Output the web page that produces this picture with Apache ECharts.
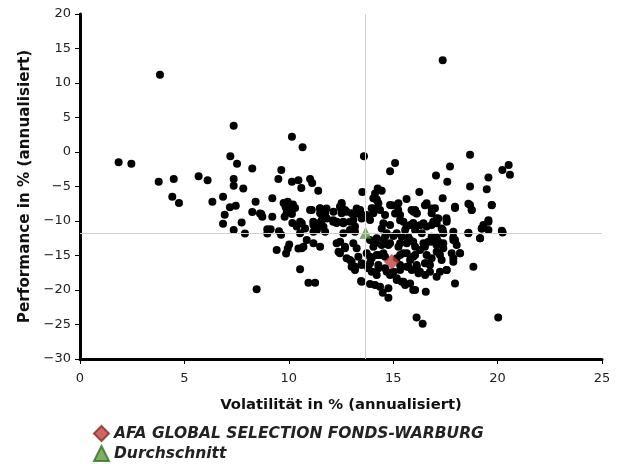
<!DOCTYPE html>
<html><head><meta charset="utf-8">
<script src="https://cdn.jsdelivr.net/npm/echarts@6/dist/echarts.min.js"></script>
<style>html,body{margin:0;padding:0;background:#fff}#c{width:623px;height:464px}</style>
</head><body><div id="c"></div>
<script>
var xTicks = [0, 5, 10, 15, 20, 25];
var yTicks = [-30, -25, -20, -15, -10, -5, 0, 5, 10, 15, 20];
var xAxisName = 'Volatilität in % (annualisiert)';
var yAxisName = 'Performance in % (annualisiert)';
var fundName = 'AFA GLOBAL SELECTION FONDS-WARBURG';
var avgName = 'Durchschnitt';
var fundPoint = [14.93, -15.9];
var avgPoint = [13.68, -11.75];
var peerPoints = [
[1.85,-1.5],[2.46,-1.7],[3.83,11.2],[3.77,-4.3],[4.49,-3.9],[4.42,-6.5],[4.74,-7.4],[5.68,-3.5],[6.11,-4.1],[6.34,-7.2],
[6.85,-6.5],[6.93,-9.1],[6.85,-10.4],[7.36,3.8],[7.2,-0.6],[7.52,-1.7],[7.36,-3.9],[7.36,-4.9],[7.82,-5.3],[7.18,-8.0],
[7.46,-7.8],[7.74,-10.2],[7.36,-11.3],[7.9,-11.8],[8.25,-2.4],[8.41,-7.2],[8.25,-8.7],[8.68,-9.0],[8.73,-9.4],[9.21,-6.7],
[9.21,-9.4],[8.97,-11.2],[9.13,-11.2],[8.97,-11.8],[9.53,-11.5],[9.63,-12.0],[9.42,-14.2],[9.87,-14.7],[9.95,-14.0],[10.02,-13.4],
[9.5,-3.9],[9.64,-2.6],[10.15,2.2],[10.66,0.7],[10.15,-4.3],[10.46,-4.1],[10.6,-5.2],[11.02,-3.9],[11.12,-4.5],[11.41,-5.6],
[8.46,-19.9],[10.54,-17.0],[10.94,-18.94],[11.26,-18.94],[10.46,-14.0],[10.17,-10.3],[10.38,-10.8],
[9.75,-7.4],[9.95,-7.2],[10.2,-7.6],[9.85,-8.0],[10.05,-8.3],[10.3,-8.1],[9.9,-8.8],[10.15,-9.0],[9.8,-9.4],
[8.62,-8.9],[13.6,-0.6],[13.52,-5.8],[11.02,-8.4],[11.49,-8.2],[11.81,-8.2],[11.57,-8.9],[12.53,-7.4],[12.53,-8.4],[12.69,-8.4],
[13.25,-8.2],[13.4,-8.4],[13.25,-8.9],
[15.09,-1.6],[14.85,-2.8],[17.05,-3.4],[14.26,-5.3],[14.45,-5.6],[14.13,-6.0],[14.05,-6.7],[14.21,-6.9],[16.25,-5.8],[15.64,-6.8],
[14.05,-8.2],[14.93,-7.7],[15.16,-7.7],[15.24,-8.4],[15.09,-8.9],[15.88,-8.4],[16.04,-8.6],[16.12,-8.9],[16.52,-7.7],[16.84,-8.2],
[17.08,-9.6],
[18.68,-0.4],[17.72,-2.1],[17.59,-4.3],[18.68,-5.0],[19.56,-3.7],[19.48,-5.4],[20.23,-2.6],[20.53,-1.9],[20.59,-3.3],[17.37,-6.7],
[17.96,-8.1],[18.6,-7.5],[18.76,-8.4],[19.72,-7.7],[17.55,-9.6],[19.56,-9.9],[17.37,13.3],
[19.24,-11.1],[19.16,-12.5],[20.2,-11.4],[18.6,-11.7],[17.88,-12.4],[17.37,-11.3],[17.08,-12.4],[16.6,-10.8],[16.92,-10.1],[16.28,-10.6],
[15.33,-9.9],[15.64,-10.8],[15.96,-10.3],[12.13,-9.9],[12.29,-10.3],[10.54,-10.1],[11.17,-10.1],[11.33,-11.3],[12.61,-10.1],[12.93,-10.1],
[13.17,-10.8],[13.41,-8.9],
[12.53,-7.68],[14.29,-7.44],[14.85,-7.68],[15.25,-7.44],[16.05,-8.41],[16.6,-7.44],[17.0,-8.17],[17.96,-7.93],[18.68,-7.68],[19.72,-7.68],[14.21,-6.96],
[11.1,-8.41],[11.5,-8.17],[11.74,-8.89],[12.14,-8.65],[12.53,-8.89],[12.77,-8.65],[13.33,-8.89],[13.73,-9.13],[14.05,-8.89],[14.37,-8.41],
[14.61,-9.13],[15.17,-8.89],[15.33,-9.13],[15.97,-8.65],[16.13,-8.89],[16.84,-8.89],[17.16,-9.62],[17.56,-9.86],[18.76,-8.41],[19.32,-10.58],[19.56,-10.1],
[10.62,-10.34],[11.18,-10.58],[11.42,-10.34],[11.58,-9.86],[11.82,-9.62],[12.3,-10.1],[12.61,-10.34],[13.09,-9.86],[13.49,-9.62],[13.89,-9.86],
[14.53,-10.34],[14.85,-10.58],[15.49,-10.1],[15.81,-10.58],[16.45,-10.34],[16.84,-10.58],[17.08,-10.34],[17.32,-11.07],[17.56,-10.1],
[10.54,-11.79],[10.78,-11.07],[11.34,-11.31],[11.74,-11.55],[12.61,-11.79],[12.93,-11.31],[13.17,-11.55],[14.45,-11.07],[14.69,-11.79],[15.17,-11.79],
[15.57,-11.31],[16.05,-11.31],[16.37,-11.79],[16.84,-12.27],[17.4,-11.79],[17.88,-11.55],[18.6,-11.79],[19.24,-11.07],[19.56,-11.31],[20.24,-11.65],
[10.86,-12.76],[11.18,-13.24],[10.62,-13.96],[11.5,-13.72],[12.46,-13.0],[12.69,-13.72],[13.09,-13.24],[13.25,-13.96],[13.89,-12.76],[14.13,-13.24],
[14.53,-12.76],[14.77,-13.48],[15.33,-13.24],[15.81,-12.76],[16.05,-13.72],[16.45,-13.24],[16.84,-13.0],[17.16,-13.0],[17.4,-13.24],[17.88,-12.76],
[18.04,-13.48],[19.16,-12.51],
[12.38,-14.45],[12.77,-15.41],[13.01,-15.9],[13.33,-15.17],[13.73,-14.69],[13.97,-15.41],[14.37,-14.93],[14.61,-15.17],[15.17,-15.41],[15.49,-14.69],
[15.81,-15.65],[16.05,-14.93],[16.6,-14.93],[17.08,-14.45],[17.32,-15.65],[17.88,-15.41],[18.2,-14.69],[16.6,-16.14],
[13.01,-16.62],[13.17,-17.1],[13.49,-16.38],[13.81,-16.86],[13.97,-17.35],[14.29,-16.86],[14.69,-17.35],[15.01,-17.35],[15.33,-17.1],[15.65,-16.62],
[15.89,-17.1],[16.21,-17.59],[16.53,-17.83],[16.76,-16.38],[17.24,-17.35],[17.56,-17.1],[18.84,-16.62],[16.13,-16.62],
[13.46,-18.7],[13.89,-19.13],[14.37,-19.52],[14.77,-19.76],[14.5,-20.39],[14.77,-21.11],[15.17,-18.55],[15.57,-19.28],[16.05,-20.0],[16.56,-20.24],
[17.96,-19.04],[15.41,-18.79],
[16.12,-24.0],[16.41,-24.9],[20.03,-24.0],
[14.21,-12.51],[14.61,-12.27],[15.01,-12.18],[15.41,-12.27],[15.73,-12.37],[14.05,-13.72],[14.45,-13.48],[14.85,-13.24],[15.25,-13.72],[15.65,-13.24],
[15.96,-13.0],[14.21,-14.93],[14.53,-14.69],[15.33,-14.93],[15.65,-14.69],[15.96,-15.17],[13.89,-16.14],[14.29,-16.38],[14.61,-16.86],[15.33,-16.38],
[15.73,-16.62],[16.12,-16.38],[14.21,-17.83],[14.85,-17.83],[15.17,-18.31],[15.49,-18.79],[15.81,-19.04],[15.96,-20.0],[16.28,-14.2],[16.52,-13.72],
[16.68,-13.0],[16.92,-12.51],[17.08,-13.48],[17.4,-13.96],[17.24,-14.93],[16.84,-15.41],[16.52,-16.14],[16.28,-17.35],[16.76,-17.35],[17.08,-18.07],
[17.56,-17.1],[17.8,-14.69],[17.96,-12.76],[17.88,-15.9],[18.2,-14.69],
[12.29,-13.24],[12.45,-14.69],[12.69,-13.96],[12.93,-15.65],[13.17,-16.62],[13.49,-16.14],[13.89,-15.17],[13.49,-18.79],[14.13,-19.28],
[11.5,-8.89],[12.45,-7.93],[13.01,-8.89],[13.41,-8.41],[13.97,-8.17],[11.66,-10.82],[12.13,-10.1],[11.18,-11.55],[10.7,-13.72]
];

var chart = echarts.init(document.getElementById('c'));
var font = '"DejaVu Sans", "Liberation Sans", Arial, sans-serif';
var legendText = {fontFamily: font, fontSize: 15.5, fontWeight: 'bold', fontStyle: 'italic', color: '#222'};
chart.setOption({
  animation: false,
  textStyle: {fontFamily: font},
  grid: {left: 80, right: 21, top: 14, bottom: 105, containLabel: false},
  xAxis: {
    type: 'value', min: 0, max: 25, interval: 5,
    name: xAxisName, nameLocation: 'middle', nameGap: 39,
    nameTextStyle: {fontFamily: font, fontSize: 14.8, fontWeight: 'bold', color: '#111'},
    axisLine: {onZero: false, lineStyle: {color: '#000', width: 3}},
    axisTick: {show: true, length: 5, lineStyle: {color: '#000', width: 1}},
    axisLabel: {fontFamily: font, fontSize: 13, color: '#222', margin: 13},
    splitLine: {show: false}
  },
  yAxis: {
    type: 'value', min: -30, max: 20, interval: 5,
    name: yAxisName, nameLocation: 'middle', nameGap: 44, nameRotate: 90,
    nameTextStyle: {fontFamily: font, fontSize: 15.2, fontWeight: 'bold', color: '#111'},
    axisLine: {onZero: false, lineStyle: {color: '#000', width: 3}},
    axisTick: {show: true, length: 5, lineStyle: {color: '#000', width: 1}},
    axisLabel: {fontFamily: font, fontSize: 13, color: '#222', margin: 9,
      formatter: function (v) { return String(v).replace('-', '\u2212'); }},
    splitLine: {show: false}
  },
  legend: [
    {
      left: 91, top: 423, padding: 2, itemWidth: 15, itemHeight: 15, itemGap: 4,
      data: [{name: fundName, icon: 'diamond'}], textStyle: legendText
    },
    {
      left: 91, top: 443, padding: 2, itemWidth: 15, itemHeight: 15, itemGap: 4,
      data: [{name: avgName, icon: 'triangle'}], textStyle: legendText
    }
  ],
  series: [
    {
      name: 'lines', type: 'scatter', data: [], z: 1, silent: true,
      markLine: {
        silent: true, symbol: ['none', 'none'], animation: false,
        label: {show: false},
        lineStyle: {color: '#d0d0d0', width: 1, type: 'solid'},
        data: [{xAxis: avgPoint[0]}, {yAxis: avgPoint[1]}]
      }
    },
    {
      name: 'peers', type: 'scatter', data: peerPoints, z: 2,
      symbol: 'circle', symbolSize: 8,
      itemStyle: {color: '#000', opacity: 1}
    },
    {
      name: avgName, type: 'scatter', data: [avgPoint], z: 3,
      symbol: 'triangle', symbolSize: 11,
      itemStyle: {color: '#5a9e3a', borderColor: '#3b6e25', borderWidth: 0.5}
    },
    {
      name: fundName, type: 'scatter', data: [fundPoint], z: 4,
      symbol: 'diamond', symbolSize: 15,
      itemStyle: {color: '#c0413c', borderColor: '#8a2a26', borderWidth: 0.5}
    }
  ]
});
</script>
</body></html>
